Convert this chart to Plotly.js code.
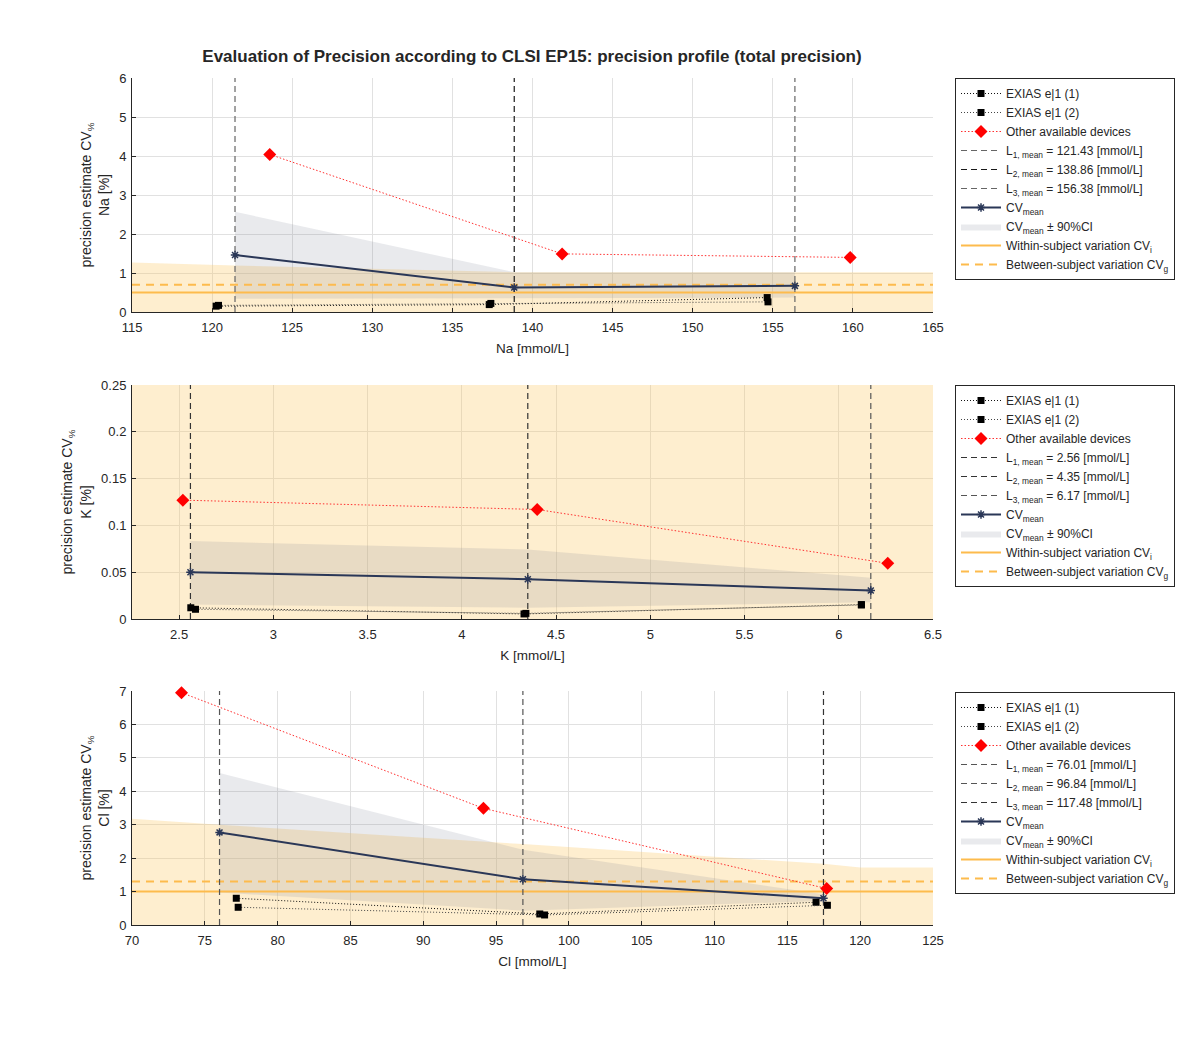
<!DOCTYPE html>
<html>
<head>
<meta charset="utf-8">
<script src="https://cdn.plot.ly/plotly-3.0.1.min.js"></script>
<style>html,body{margin:0;padding:0;background:#fff;}#chart{width:1188px;height:1040px;}</style>
</head>
<body>
<div id="chart"></div>
<script>
// ---------- Na ----------
const naLevels = [121.43, 138.86, 156.38];
const naCV = [1.46, 0.63, 0.67];
const naCILow = [0.34, 0.36, 0.37];
const naCIUp = [2.57, 1.02, 1.02];
const naExias1X = [120.25, 137.3, 154.65];
const naExias1Y = [0.15, 0.19, 0.37];
const naExias2X = [120.4, 137.4, 154.7];
const naExias2Y = [0.17, 0.22, 0.26];
const naOtherX = [123.6, 141.85, 159.83];
const naOtherY = [4.04, 1.49, 1.40];
const naCVi = 0.5;
const naCVg = 0.7;
const naBandX = [115, 121.43, 138.86, 165];
const naBandTop = [1.27, 1.19, 1.02, 1.02];
const naXRange = [115, 165];
const naYRange = [0, 6];

// ---------- K ----------
const kLevels = [2.56, 4.35, 6.17];
const kCV = [0.050, 0.0425, 0.0304];
const kCILow = [0.0154, 0.012, 0.018];
const kCIUp = [0.0832, 0.0743, 0.044];
const kExias1X = [2.562, 4.33, 6.12];
const kExias1Y = [0.012, 0.0054, 0.0154];
const kExias2X = [2.587, 4.34, 6.12];
const kExias2Y = [0.0104, 0.006, 0.015];
const kOtherX = [2.52, 4.40, 6.26];
const kOtherY = [0.127, 0.117, 0.0595];
const kCVi = 4.8;
const kCVg = 5.6;
const kBandX = [2.25, 6.5];
const kBandTop = [0.3, 0.3];
const kXRange = [2.25, 6.5];
const kYRange = [0, 0.25];

// ---------- Cl ----------
const clLevels = [76.01, 96.84, 117.48];
const clCV = [2.77, 1.37, 0.80];
const clCILow = [0.97, 0.43, 0.72];
const clCIUp = [4.55, 2.25, 0.92];
const clExias1X = [77.16, 98.0, 116.97];
const clExias1Y = [0.80, 0.33, 0.68];
const clExias2X = [77.29, 98.33, 117.75];
const clExias2Y = [0.53, 0.30, 0.59];
const clOtherX = [73.4, 94.13, 117.7];
const clOtherY = [6.95, 3.49, 1.09];
const clCVi = 1.0;
const clCVg = 1.3;
const clBandX = [70, 76.01, 96.84, 117.48, 120, 125];
const clBandTop = [3.18, 3.0, 2.42, 1.83, 1.72, 1.72];
const clXRange = [70, 125];
const clYRange = [0, 7];

const levelLabels = ['1', '2', '3'];

const NAVY = '#2a3757';
const ORANGE = '#fdbb4d';
const TXT = '#262626';
const FONT = 'Liberation Sans, Arial, sans-serif';

function panel(p) {
  const xa = 'x' + (p.idx === 1 ? '' : p.idx);
  const ya = 'y' + (p.idx === 1 ? '' : p.idx);
  const lg = 'legend' + (p.idx === 1 ? '' : p.idx);
  const t = [];
  const base = {xaxis: xa, yaxis: ya, legend: lg};
  // beige band (no legend)
  t.push(Object.assign({}, base, {
    type: 'scatter', mode: 'lines',
    x: p.bandX.concat(p.bandX.slice().reverse()),
    y: p.bandTop.concat(p.bandX.map(() => 0)),
    fill: 'toself', fillcolor: 'rgba(252,200,95,0.30)',
    line: {width: 0}, showlegend: false, hoverinfo: 'skip'
  }));
  // CI band
  t.push(Object.assign({}, base, {
    type: 'scatter', mode: 'lines',
    x: p.levels.concat(p.levels.slice().reverse()),
    y: p.ciLow.concat(p.ciUp.slice().reverse()),
    fill: 'toself', fillcolor: 'rgba(120,125,140,0.16)',
    line: {width: 0}, name: 'CV<sub>mean</sub> ± 90%CI', legendrank: 8
  }));
  // CVi, CVg
  t.push(Object.assign({}, base, {
    type: 'scatter', mode: 'lines', x: p.xRange, y: [p.cvi, p.cvi],
    line: {color: ORANGE, width: 2}, name: 'Within-subject variation CV<sub>i</sub>', legendrank: 9
  }));
  t.push(Object.assign({}, base, {
    type: 'scatter', mode: 'lines', x: p.xRange, y: [p.cvg, p.cvg],
    line: {color: ORANGE, width: 2, dash: '8px,6px'}, name: 'Between-subject variation CV<sub>g</sub>', legendrank: 10
  }));
  // vertical level lines
  p.levels.forEach((L, i) => {
    t.push(Object.assign({}, base, {
      type: 'scatter', mode: 'lines', x: [L, L], y: p.yRange,
      line: {color: p.lineColors[i], width: 1.2, dash: '6px,4px'},
      name: 'L<sub>' + levelLabels[i] + ', mean</sub> = ' + L.toFixed(2) + ' [mmol/L]',
      legendrank: 4 + i
    }));
  });
  // CV mean
  t.push(Object.assign({}, base, {
    type: 'scatter', mode: 'lines+markers', x: p.levels, y: p.cv,
    line: {color: NAVY, width: 2},
    marker: {symbol: 'asterisk-open', size: 7, color: NAVY, line: {color: NAVY, width: 1.5}},
    name: 'CV<sub>mean</sub>', legendrank: 7
  }));
  // EXIAS
  t.push(Object.assign({}, base, {
    type: 'scatter', mode: 'lines+markers', x: p.e1x, y: p.e1y,
    line: {color: '#111', width: 1, dash: '1px,2px'},
    marker: {symbol: 'square', size: 7, color: '#000'},
    name: 'EXIAS e|1 (1)', legendrank: 1
  }));
  t.push(Object.assign({}, base, {
    type: 'scatter', mode: 'lines+markers', x: p.e2x, y: p.e2y,
    line: {color: '#444', width: 1, dash: '1px,2px'},
    marker: {symbol: 'square', size: 7, color: '#000'},
    name: 'EXIAS e|1 (2)', legendrank: 2
  }));
  // Others
  t.push(Object.assign({}, base, {
    type: 'scatter', mode: 'lines+markers', x: p.ox, y: p.oy,
    line: {color: '#ff3030', width: 1, dash: '1.5px,2px'},
    marker: {symbol: 'diamond', size: 10, color: '#ff0000'},
    name: 'Other available devices', legendrank: 3, cliponaxis: false
  }));
  return t;
}

const traces = []
  .concat(panel({idx: 1, levels: naLevels, cv: naCV, ciLow: naCILow, ciUp: naCIUp,
    e1x: naExias1X, e1y: naExias1Y, e2x: naExias2X, e2y: naExias2Y, ox: naOtherX, oy: naOtherY,
    cvi: naCVi, cvg: naCVg, bandX: naBandX, bandTop: naBandTop, xRange: naXRange, yRange: naYRange,
    lineColors: ['#666', '#1a1a1a', '#666']}))
  .concat(panel({idx: 2, levels: kLevels, cv: kCV, ciLow: kCILow, ciUp: kCIUp,
    e1x: kExias1X, e1y: kExias1Y, e2x: kExias2X, e2y: kExias2Y, ox: kOtherX, oy: kOtherY,
    cvi: kCVi, cvg: kCVg, bandX: kBandX, bandTop: kBandTop, xRange: kXRange, yRange: kYRange,
    lineColors: ['#333', '#333', '#555']}))
  .concat(panel({idx: 3, levels: clLevels, cv: clCV, ciLow: clCILow, ciUp: clCIUp,
    e1x: clExias1X, e1y: clExias1Y, e2x: clExias2X, e2y: clExias2Y, ox: clOtherX, oy: clOtherY,
    cvi: clCVi, cvg: clCVg, bandX: clBandX, bandTop: clBandTop, xRange: clXRange, yRange: clYRange,
    lineColors: ['#555', '#555', '#333']}));

const W = 1188, H = 1040;
const xDom = [132 / W, 933 / W];
function yDom(top, bottom) { return [1 - bottom / H, 1 - top / H]; }

function xAxis(range, dtick, title, anchor) {
  return {
    domain: xDom, range: range, dtick: dtick, tick0: range[0], anchor: anchor,
    showgrid: true, gridcolor: '#e1e1e1', gridwidth: 1,
    showline: true, linecolor: TXT, linewidth: 1, mirror: false,
    ticks: 'inside', ticklen: 4, tickcolor: TXT, zeroline: false,
    ticklabelstandoff: 3,
    tickfont: {family: FONT, size: 13, color: TXT},
    title: {text: title, font: {family: FONT, size: 13.5, color: TXT}, standoff: 9},
    automargin: false, fixedrange: true
  };
}
function yAxis(dom, range, dtick, title, anchor) {
  return {
    domain: dom, range: range, dtick: dtick, tick0: 0, anchor: anchor,
    showgrid: true, gridcolor: '#e1e1e1', gridwidth: 1,
    showline: true, linecolor: TXT, linewidth: 1, mirror: false,
    ticks: 'inside', ticklen: 4, tickcolor: TXT, zeroline: false,
    ticklabelstandoff: 2,
    tickfont: {family: FONT, size: 13, color: TXT},
    title: {text: title, font: {family: FONT, size: 14, color: TXT}, standoff: 6},
    automargin: false, fixedrange: true
  };
}
function legendCfg(top) {
  return {
    x: 955 / W, y: 1 - top / H, xanchor: 'left', yanchor: 'top',
    bgcolor: '#fff', bordercolor: TXT, borderwidth: 1,
    font: {family: FONT, size: 12, color: TXT},
    itemwidth: 40, traceorder: 'normal', tracegroupgap: 0
  };
}

const layout = {
  width: W, height: H,
  margin: {l: 0, r: 0, t: 0, b: 0},
  paper_bgcolor: '#fff', plot_bgcolor: '#fff',
  font: {family: FONT, color: TXT},
  title: {text: '<b>Evaluation of Precision according to CLSI EP15: precision profile (total precision)</b>',
    font: {family: FONT, size: 17, color: TXT}, x: 532 / W, xanchor: 'center', y: 1 - 56 / H, yanchor: 'middle'},
  xaxis: xAxis(naXRange, 5, 'Na [mmol/L]', 'y'),
  yaxis: yAxis(yDom(78, 312), naYRange, 1, 'precision estimate CV<sub>%</sub><br>Na [%]', 'x'),
  xaxis2: xAxis(kXRange, 0.5, 'K [mmol/L]', 'y2'),
  yaxis2: yAxis(yDom(385, 619), kYRange, 0.05, 'precision estimate CV<sub>%</sub><br>K [%]', 'x2'),
  xaxis3: xAxis(clXRange, 5, 'Cl [mmol/L]', 'y3'),
  yaxis3: yAxis(yDom(691, 925), clYRange, 1, 'precision estimate CV<sub>%</sub><br>Cl [%]', 'x3'),
  legend: legendCfg(78),
  legend2: legendCfg(385),
  legend3: legendCfg(692),
  showlegend: true
};
layout.xaxis2.tick0 = 2.5;

Plotly.newPlot('chart', traces, layout, {displayModeBar: false, staticPlot: true});
</script>
</body>
</html>
